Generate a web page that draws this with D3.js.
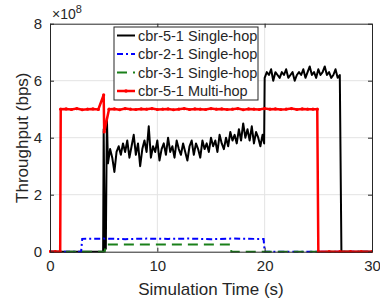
<!DOCTYPE html>
<html>
<head>
<meta charset="utf-8">
<script src="https://cdn.jsdelivr.net/npm/d3@7"></script>
<style>
  body { margin: 0; background: #fff; }
  text { font-family: "Liberation Sans", Arial, sans-serif; fill: #262626; }
</style>
</head>
<body>
<div id="chart"></div>
<script>
// throughput values are in units of 1e8 bps
const xTicks = [0, 10, 20, 30];
const yTicks = [0, 2, 4, 6, 8];
const seriesNames = ['cbr-5-1 Single-hop', 'cbr-2-1 Single-hop', 'cbr-3-1 Single-hop', 'cbr-5-1 Multi-hop'];

// cbr-5-1 single hop: start-up edge, noisy part 5.4..19.8 s (0.2 s step), high part 20.0..27.0 s
const blackStart = [[0, 0], [4.95, 0], [5.0, 4.3], [5.1, 0.1], [5.2, 0.1], [5.3, 4.7]];
const blackLow = [3.1, 3.6, 3.3, 2.8, 3.5, 3.7, 3.4, 3.8, 3.5, 3.9, 3.3, 3.7, 4.1, 3.4, 3.8, 3.0,
  3.6, 3.9, 3.5, 4.4, 3.3, 3.7, 3.5, 3.9, 3.2, 3.6, 3.8, 3.4, 4.0, 3.5, 3.7, 3.3, 3.9, 3.6, 3.4,
  3.8, 3.5, 3.2, 3.7, 3.9, 3.4, 3.8, 3.6, 3.3, 3.9, 3.6, 3.8, 3.5, 4.0, 3.7, 3.9, 3.5, 4.1, 3.8,
  3.6, 4.0, 3.7, 4.2, 3.9, 4.1, 3.8, 4.3, 3.9, 4.5, 4.0, 4.3, 3.9, 4.4, 3.8, 4.2, 4.0, 3.7, 4.1];
const blackHigh = [6.1, 6.3, 6.2, 6.4, 6.0, 6.3, 6.2, 6.1, 6.3, 6.2, 6.4, 6.1, 6.2, 6.3, 6.0, 6.2,
  6.3, 6.2, 6.4, 6.1, 6.3, 6.5, 6.2, 6.3, 6.1, 6.4, 6.2, 6.3, 6.5, 6.2, 6.3, 6.1, 6.2, 6.4, 6.1, 6.2];
const blackEnd = [[27.15, 0], [30, 0]];

// cbr-2-1 and cbr-3-1 single hop
const bluePts = [[0, 0], [2.9, 0], [3.0, 0.45], [5, 0.46], [7, 0.44], [9, 0.46], [11, 0.45],
  [13, 0.46], [15, 0.44], [17, 0.46], [19, 0.45], [19.9, 0.45], [20.0, 0], [30, 0]];
const greenPts = [[0, 0], [5.1, 0], [5.2, 0.25], [8, 0.25], [11, 0.25], [14, 0.25], [16.8, 0.25],
  [16.9, 0], [30, 0]];

// cbr-5-1 multi hop: 0.5 s samples from 1 to 24.5 s
const redStart = [[0, 0], [0.5, 0], [0.95, 0]];
const redOn = [5.0, 5.01, 4.99, 5.02, 4.98, 5.0, 5.01, 4.99, 5.02, 5.0, 5.01, 4.98, 5.02, 5.0,
  4.99, 5.01, 5.0, 5.02, 4.99, 5.0, 5.01, 4.98, 5.0, 5.02, 4.99, 5.01, 5.0, 4.99, 5.02, 5.0,
  5.01, 4.99, 5.0, 5.02, 4.98, 5.01, 5.0, 4.99, 5.02, 5.0, 5.01, 4.99, 5.0, 5.02, 4.99, 5.01, 5.0, 5.0];
const redSpike = [[5.0, 5.5], [5.05, 4.2]];
const redEnd = [[24.9, 5.0], [25.0, 0], [26, 0], [27, 0], [28, 0], [29, 0], [30, 0]];

const W = 380, H = 303;
const margin = { top: 23.7, right: 8, bottom: 51.3, left: 50 };
const width = W - margin.left - margin.right,
      height = H - margin.top - margin.bottom;

const svg = d3.select('#chart').append('svg')
  .attr('width', W).attr('height', H);

const x = d3.scaleLinear().domain([0, 30]).range([0, width]);
const y = d3.scaleLinear().domain([0, 8]).range([height, 0]);

const g = svg.append('g').attr('transform', `translate(${margin.left},${margin.top})`);

g.append('defs').append('clipPath').attr('id', 'clip')
  .append('rect').attr('x', -1).attr('y', -1).attr('width', width + 2).attr('height', height + 2);

// grid
g.append('g').selectAll('line.gx').data(xTicks.slice(1, -1)).enter().append('line')
  .attr('x1', d => x(d)).attr('x2', d => x(d)).attr('y1', 0).attr('y2', height)
  .attr('stroke', '#e3e3e3').attr('stroke-width', 1);
g.append('g').selectAll('line.gy').data(yTicks.slice(1, -1)).enter().append('line')
  .attr('y1', d => y(d)).attr('y2', d => y(d)).attr('x1', 0).attr('x2', width)
  .attr('stroke', '#e3e3e3').attr('stroke-width', 1);

// build series
const blackData = blackStart
  .concat(blackLow.map((v, i) => [5.4 + i * 0.2, v]))
  .concat([[19.95, 3.8]])
  .concat(blackHigh.map((v, i) => [20.0 + i * 0.2, v]))
  .concat(blackEnd);
const redMid = redOn.map((v, i) => [1.0 + i * 0.5, v]);
const redData = redStart
  .concat(redMid.filter(d => d[0] < 5))
  .concat(redSpike)
  .concat(redMid.filter(d => d[0] > 5))
  .concat(redEnd);

const line = d3.line().x(d => x(d[0])).y(d => y(d[1]));
const plot = g.append('g').attr('clip-path', 'url(#clip)');

plot.append('path').datum(blackData).attr('d', line)
  .attr('fill', 'none').attr('stroke', '#000').attr('stroke-width', 2).attr('stroke-linejoin', 'round');
plot.append('path').datum(bluePts).attr('d', line)
  .attr('fill', 'none').attr('stroke', '#0000ff').attr('stroke-width', 2)
  .attr('stroke-dasharray', '6,3,2,3');
plot.append('path').datum(greenPts).attr('d', line)
  .attr('fill', 'none').attr('stroke', '#1a801a').attr('stroke-width', 2)
  .attr('stroke-dasharray', '10,6');
plot.append('path').datum(redData).attr('d', line)
  .attr('fill', 'none').attr('stroke', '#ff0000').attr('stroke-width', 2.5);
plot.selectAll('circle.red').data(redData).enter().append('circle')
  .attr('cx', d => x(d[0])).attr('cy', d => y(d[1])).attr('r', 1.6)
  .attr('fill', '#ff0000');

// axes (MATLAB style, ticks inward)
g.append('g').attr('transform', `translate(0,${height})`)
  .call(d3.axisBottom(x).tickValues(xTicks).tickSizeInner(-4).tickSizeOuter(0).tickPadding(9));
g.append('g')
  .call(d3.axisLeft(y).tickValues(yTicks).tickSizeInner(-4).tickSizeOuter(0).tickPadding(8));
g.append('g').attr('transform', `translate(0,0)`)
  .call(d3.axisTop(x).tickValues(xTicks).tickSizeInner(-4).tickSizeOuter(0).tickFormat(''));
g.append('g').attr('transform', `translate(${width},0)`)
  .call(d3.axisRight(y).tickValues(yTicks).tickSizeInner(-4).tickSizeOuter(0).tickFormat(''));
g.selectAll('.domain').attr('stroke', '#262626');
g.selectAll('.tick line').attr('stroke', '#262626');
g.selectAll('.tick text').style('font-size', '15px').attr('fill', '#262626')
  .style('font-family', '"Liberation Sans", Arial, sans-serif');

// axis labels
svg.append('text').attr('x', margin.left + width / 2).attr('y', 295)
  .attr('text-anchor', 'middle').style('font-size', '17px').text('Simulation Time (s)');
svg.append('text').attr('transform', `translate(28,${margin.top + height / 2}) rotate(-90)`)
  .attr('text-anchor', 'middle').style('font-size', '17px').text('Throughput (bps)');
const exp = svg.append('text').attr('x', 52).attr('y', 19).style('font-size', '14px');
exp.append('tspan').text('\u00d710');
exp.append('tspan').attr('dy', -6).style('font-size', '11px').text('8');

// legend
const legend = svg.append('g').attr('transform', 'translate(114,27)');
legend.append('rect').attr('width', 144).attr('height', 73)
  .attr('fill', '#fff').attr('stroke', '#262626').attr('stroke-width', 1);
const legStyles = [
  { c: '#000', dash: null, w: 2 },
  { c: '#0000ff', dash: '6,3,2,3', w: 2 },
  { c: '#1a801a', dash: '10,6', w: 2 },
  { c: '#ff0000', dash: null, w: 2.5 }
];
seriesNames.forEach((name, i) => {
  const row = legend.append('g').attr('transform', `translate(0,${8.5 + i * 18.5})`);
  row.append('line').attr('x1', 3).attr('x2', 21).attr('y1', 0).attr('y2', 0)
    .attr('stroke', legStyles[i].c).attr('stroke-width', legStyles[i].w)
    .attr('stroke-dasharray', legStyles[i].dash);
  if (i === 3) row.append('circle').attr('cx', 12).attr('cy', 0).attr('r', 1.8).attr('fill', '#ff0000');
  row.append('text').attr('x', 24).attr('y', 5).style('font-size', '14.5px').text(name);
});
</script>
</body>
</html>
